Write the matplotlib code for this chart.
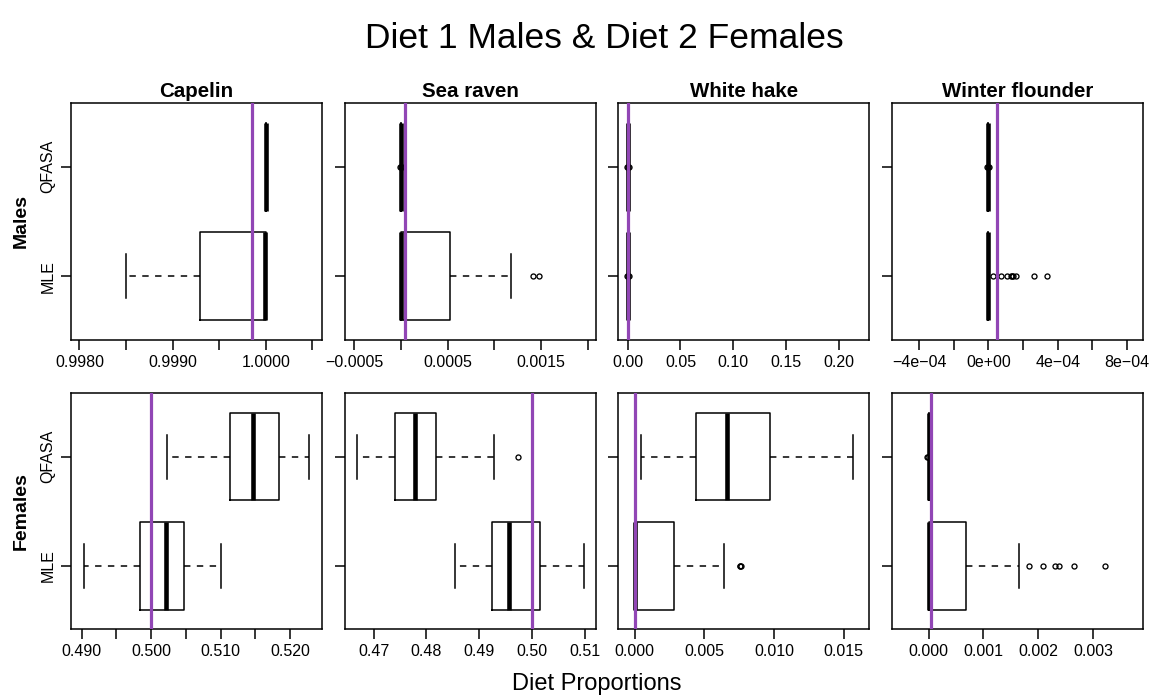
import matplotlib
matplotlib.use('Agg')
import matplotlib.pyplot as plt

plt.rcParams['font.family'] = ['Liberation Sans', 'DejaVu Sans']

# ---------------- data ----------------
species = ['Capelin', 'Sea raven', 'White hake', 'Winter flounder']
methods = ['MLE', 'QFASA']
rows = ['Males', 'Females']

# Males, MLE (box statistics per species)
males_mle_whislo = [0.99850, 0.0, 0.0, 0.0]
males_mle_q1 = [0.99929, 0.0, 0.0, 0.0]
males_mle_med = [0.99999, 0.0, 0.0, 0.0]
males_mle_q3 = [1.0, 0.00053, 0.0, 0.0]
males_mle_whishi = [1.0, 0.00118, 0.0, 0.0]
males_mle_fliers = [[], [0.00141, 0.00148], [-0.0008, 0.0, 0.0008],
                    [2.9e-5, 7.3e-5, 1.06e-4, 1.31e-4, 1.38e-4, 1.44e-4,
                     1.58e-4, 2.62e-4, 3.37e-4]]

# Males, QFASA
males_qfasa_whislo = [1.0, 0.0, 0.0, 0.0]
males_qfasa_q1 = [1.0, 0.0, 0.0, 0.0]
males_qfasa_med = [1.0, 0.0, 0.0, 0.0]
males_qfasa_q3 = [1.0, 0.0, 0.0, 0.0]
males_qfasa_whishi = [1.0, 0.0, 0.0, 0.0]
males_qfasa_fliers = [[], [-0.00001, 0.0, 0.00001], [-0.0008, 0.0, 0.0008],
                      [-0.000006, 0.0, 0.000006]]

# Females, MLE
females_mle_whislo = [0.49029, 0.48538, 0.0, 0.0]
females_mle_q1 = [0.49846, 0.49247, 0.0, 0.0]
females_mle_med = [0.50216, 0.49570, 0.0, 0.0]
females_mle_q3 = [0.50481, 0.50146, 0.00285, 0.00068]
females_mle_whishi = [0.51000, 0.50981, 0.00638, 0.00164]
females_mle_fliers = [[], [], [0.00753, 0.00758, 0.00762],
                      [0.001836, 0.002086, 0.002311, 0.002378, 0.002652, 0.003224]]

# Females, QFASA
females_qfasa_whislo = [0.50231, 0.46677, 0.00043, 0.0]
females_qfasa_q1 = [0.51135, 0.47399, 0.00437, 0.0]
females_qfasa_med = [0.51462, 0.47791, 0.00660, 0.0]
females_qfasa_q3 = [0.51837, 0.48171, 0.00974, 0.0]
females_qfasa_whishi = [0.52270, 0.49272, 0.01567, 0.0]
females_qfasa_fliers = [[], [0.49728], [], [-0.00003, -0.000015]]

# True diet proportions (purple lines)
males_true = [0.99985, 0.000046, 0.0002, 0.00005]
females_true = [0.5, 0.5, 0.00002, 0.00004]

# Axis limits and ticks
males_xlim = [(0.997909, 1.000604), (-0.000603, 0.002086), (-0.0089, 0.2289), (-5.575e-4, 8.9e-4)]
females_xlim = [(0.48846, 0.52462), (0.46449, 0.51209), (-0.00118, 0.01685), (-0.000675, 0.003907)]

males_ticks = [[0.9980, 0.9985, 0.9990, 0.9995, 1.0000, 1.0005],
               [-0.0005, 0.0, 0.0005, 0.0010, 0.0015, 0.0020],
               [0.0, 0.05, 0.10, 0.15, 0.20],
               [-4e-4, -2e-4, 0.0, 2e-4, 4e-4, 6e-4, 8e-4]]
males_ticklabels = [['0.9980', '', '0.9990', '', '1.0000', ''],
                    ['\u22120.0005', '', '0.0005', '', '0.0015', ''],
                    ['0.00', '0.05', '0.10', '0.15', '0.20'],
                    ['\u22124e\u221204', '', '0e+00', '', '4e\u221204', '', '8e\u221204']]
females_ticks = [[0.490, 0.495, 0.500, 0.505, 0.510, 0.515, 0.520],
                 [0.47, 0.48, 0.49, 0.50, 0.51],
                 [0.0, 0.005, 0.010, 0.015],
                 [0.0, 0.001, 0.002, 0.003]]
females_ticklabels = [['0.490', '', '0.500', '', '0.510', '', '0.520'],
                      ['0.47', '0.48', '0.49', '0.50', '0.51'],
                      ['0.000', '0.005', '0.010', '0.015'],
                      ['0.000', '0.001', '0.002', '0.003']]

title = 'Diet 1 Males & Diet 2 Females'
xlabel = 'Diet Proportions'

# ---------------- figure ----------------
W, H = 1152, 698
fig = plt.figure(figsize=(W / 100, H / 100), dpi=100)
purple = '#9146B5'

col_left = [71, 344.7, 618.3, 891.7]
panel_w = 251
row_top = [103, 393.3]
panel_h = [237, 236]


def stats_for(whislo, q1, med, q3, whishi, fliers, i):
    return dict(whislo=whislo[i], q1=q1[i], med=med[i], q3=q3[i],
                whishi=whishi[i], fliers=fliers[i])


row_data = [
    dict(mle=(males_mle_whislo, males_mle_q1, males_mle_med, males_mle_q3, males_mle_whishi, males_mle_fliers),
         qfasa=(males_qfasa_whislo, males_qfasa_q1, males_qfasa_med, males_qfasa_q3, males_qfasa_whishi, males_qfasa_fliers),
         true=males_true, xlim=males_xlim, ticks=males_ticks, labels=males_ticklabels),
    dict(mle=(females_mle_whislo, females_mle_q1, females_mle_med, females_mle_q3, females_mle_whishi, females_mle_fliers),
         qfasa=(females_qfasa_whislo, females_qfasa_q1, females_qfasa_med, females_qfasa_q3, females_qfasa_whishi, females_qfasa_fliers),
         true=females_true, xlim=females_xlim, ticks=females_ticks, labels=females_ticklabels),
]

lw = 1.1
for r, rd in enumerate(row_data):
    for c in range(4):
        l = col_left[c]
        t = row_top[r]
        h = panel_h[r]
        ax = fig.add_axes([l / W, 1 - (t + h) / H, panel_w / W, h / H])
        st = [stats_for(*rd['mle'], c), stats_for(*rd['qfasa'], c)]
        kw = dict(positions=[1, 2], widths=0.8, showfliers=True,
                  boxprops=dict(color='black', lw=lw),
                  whiskerprops=dict(color='black', lw=lw, linestyle=(0, (4.2, 4.2))),
                  capprops=dict(color='black', lw=lw),
                  medianprops=dict(color='black', lw=3.3, solid_capstyle='butt'),
                  flierprops=dict(marker='o', markerfacecolor='none',
                                  markeredgecolor='black', markersize=3.6,
                                  markeredgewidth=0.95),
                  capwidths=0.4)
        try:
            ax.bxp(st, orientation='horizontal', **kw)
        except TypeError:
            ax.bxp(st, vert=False, **kw)
        ax.axvline(rd['true'][c], color=purple, lw=2.3, zorder=6)
        ax.set_xlim(*rd['xlim'][c])
        ax.set_ylim(0.42, 2.58)
        ax.set_xticks(rd['ticks'][c])
        ax.set_xticklabels(rd['labels'][c])
        ax.set_yticks([1, 2])
        if c == 0:
            ax.set_yticklabels(methods, rotation=90, va='center')
        else:
            ax.set_yticklabels([])
        ax.tick_params(axis='both', direction='out', length=7, width=lw,
                       labelsize=11.5)
        ax.tick_params(axis='x', pad=3.5)
        ax.tick_params(axis='y', pad=4)
        for sp in ax.spines.values():
            sp.set_linewidth(lw)
        if r == 0:
            ax.set_title(species[c], fontsize=14.8, fontweight='bold', pad=4)

# row labels
for r in range(2):
    yc = row_top[r] + panel_h[r] / 2
    fig.text(21 / W, 1 - yc / H, rows[r], rotation=90, fontsize=14,
             fontweight='bold', ha='center', va='center')

fig.text(604 / W, 1 - 38 / H, title, fontsize=25.5, ha='center', va='center')
fig.text(597 / W, 1 - 684 / H, xlabel, fontsize=17, ha='center', va='center')

fig.savefig('out.png', dpi=100)
